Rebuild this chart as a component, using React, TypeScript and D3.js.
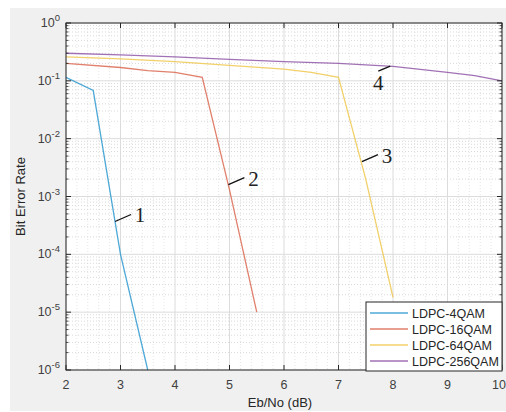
import React, { useEffect, useRef } from 'react';
import * as d3 from 'd3';

const seriesNames = ['LDPC-4QAM', 'LDPC-16QAM', 'LDPC-64QAM', 'LDPC-256QAM'];
const seriesColors = ['#2f9ad0', '#dc6a52', '#f0c850', '#9058a8'];

const ber4qam = [
  { x: 2, y: 0.115 }, { x: 2.5, y: 0.068 }, { x: 3, y: 1e-4 }, { x: 3.5, y: 1e-6 },
];
const ber16qam = [
  { x: 2, y: 0.2 }, { x: 3, y: 0.17 }, { x: 3.5, y: 0.15 }, { x: 4, y: 0.14 },
  { x: 4.5, y: 0.115 }, { x: 5, y: 1.3e-3 }, { x: 5.5, y: 1e-5 },
];
const ber64qam = [
  { x: 2, y: 0.26 }, { x: 3, y: 0.24 }, { x: 4, y: 0.215 }, { x: 5, y: 0.185 },
  { x: 6, y: 0.16 }, { x: 6.5, y: 0.14 }, { x: 7, y: 0.115 }, { x: 7.5, y: 2e-3 }, { x: 8, y: 1.8e-5 },
];
const ber256qam = [
  { x: 2, y: 0.3 }, { x: 3, y: 0.28 }, { x: 4, y: 0.26 }, { x: 5, y: 0.235 },
  { x: 6, y: 0.215 }, { x: 7, y: 0.2 }, { x: 8, y: 0.178 }, { x: 9, y: 0.14 },
  { x: 9.5, y: 0.123 }, { x: 10, y: 0.1 },
];
const allSeries = [ber4qam, ber16qam, ber64qam, ber256qam];

const xTicks = [2, 3, 4, 5, 6, 7, 8, 9, 10];
const yExponents = [0, -1, -2, -3, -4, -5, -6];

// curve labels: point on the curve + label text
const annotations = [
  { x: 2.9, y: 3.7e-4, label: '1' },
  { x: 4.98, y: 1.6e-3, label: '2' },
  { x: 7.43, y: 4e-3, label: '3' },
  { x: 7.95, y: 0.18, label: '4' },
];

export default function App() {
  const svgRef = useRef<SVGSVGElement>(null);

  useEffect(() => {
    const width = 506;
    const height = 412;
    const margin = { top: 23, right: 4, bottom: 42, left: 66 };
    const w = width - margin.left - margin.right;
    const h = height - margin.top - margin.bottom;

    const root = d3.select(svgRef.current);
    root.selectAll('*').remove();
    root.attr('width', width).attr('height', height);

    root.append('rect')
      .attr('x', 10).attr('y', 8)
      .attr('width', 496).attr('height', 403)
      .attr('fill', '#f0f0f0');

    const svg = root.append('g')
      .attr('transform', `translate(${margin.left},${margin.top})`);

    const x = d3.scaleLinear().domain([2, 10]).range([0, w]);
    const y = d3.scaleLog().domain([1e-6, 1]).range([h, 0]);

    svg.append('rect').attr('width', w).attr('height', h).attr('fill', '#ffffff');

    // minor grid
    const yMinor: number[] = [];
    for (let e = -6; e < 0; e++) {
      for (let m = 2; m <= 9; m++) yMinor.push(m * Math.pow(10, e));
    }
    const xMinor = d3.range(2, 10.001, 0.2).filter(v => Math.abs(v - Math.round(v)) > 0.01);

    svg.append('g').selectAll('line')
      .data(yMinor).enter().append('line')
      .attr('x1', 0).attr('x2', w)
      .attr('y1', d => y(d)).attr('y2', d => y(d))
      .attr('stroke', '#c8c8c8').attr('stroke-dasharray', '1,2').attr('stroke-width', 0.7);

    svg.append('g').selectAll('line')
      .data(xMinor).enter().append('line')
      .attr('y1', 0).attr('y2', h)
      .attr('x1', d => x(d)).attr('x2', d => x(d))
      .attr('stroke', '#d4d4d4').attr('stroke-dasharray', '1,2').attr('stroke-width', 0.6);

    // major grid
    svg.append('g').selectAll('line')
      .data(yExponents).enter().append('line')
      .attr('x1', 0).attr('x2', w)
      .attr('y1', d => y(Math.pow(10, d))).attr('y2', d => y(Math.pow(10, d)))
      .attr('stroke', '#dcdcdc').attr('stroke-width', 1);

    svg.append('g').selectAll('line')
      .data(xTicks).enter().append('line')
      .attr('y1', 0).attr('y2', h)
      .attr('x1', d => x(d)).attr('x2', d => x(d))
      .attr('stroke', '#dcdcdc').attr('stroke-width', 1);

    // series
    const line = d3.line<{ x: number; y: number }>()
      .x(d => x(d.x))
      .y(d => y(d.y));

    allSeries.forEach((s, i) => {
      svg.append('path')
        .datum(s)
        .attr('fill', 'none')
        .attr('stroke', seriesColors[i])
        .attr('stroke-width', 1.3)
        .attr('opacity', 0.85)
        .attr('d', line);
    });

    // box + ticks
    svg.append('rect').attr('width', w).attr('height', h)
      .attr('fill', 'none').attr('stroke', '#262626').attr('stroke-width', 1);

    const tickLen = 5;
    xTicks.forEach(t => {
      svg.append('line').attr('x1', x(t)).attr('x2', x(t)).attr('y1', h).attr('y2', h - tickLen)
        .attr('stroke', '#262626');
      svg.append('line').attr('x1', x(t)).attr('x2', x(t)).attr('y1', 0).attr('y2', tickLen)
        .attr('stroke', '#262626');
      svg.append('text')
        .attr('x', t === 10 ? x(t) - 3 : x(t)).attr('y', h + 19)
        .attr('text-anchor', 'middle')
        .attr('fill', '#404040')
        .style('font-family', 'Liberation Sans, Arial, sans-serif')
        .style('font-size', '12.5px')
        .text(t);
    });

    yExponents.forEach(e => {
      const yy = y(Math.pow(10, e));
      svg.append('line').attr('x1', 0).attr('x2', tickLen).attr('y1', yy).attr('y2', yy).attr('stroke', '#262626');
      svg.append('line').attr('x1', w).attr('x2', w - tickLen).attr('y1', yy).attr('y2', yy).attr('stroke', '#262626');
      const txt = svg.append('text')
        .attr('x', -6).attr('y', yy + 4)
        .attr('text-anchor', 'end')
        .attr('fill', '#404040')
        .style('font-family', 'Liberation Sans, Arial, sans-serif')
        .style('font-size', '12.5px');
      txt.append('tspan').text('10');
      txt.append('tspan').attr('dy', -6).style('font-size', '9.5px').text(String(e));
    });

    yMinor.forEach(v => {
      svg.append('line').attr('x1', 0).attr('x2', 2.5).attr('y1', y(v)).attr('y2', y(v)).attr('stroke', '#262626').attr('stroke-width', 0.8);
      svg.append('line').attr('x1', w).attr('x2', w - 2.5).attr('y1', y(v)).attr('y2', y(v)).attr('stroke', '#262626').attr('stroke-width', 0.8);
    });

    // axis titles
    svg.append('text')
      .attr('x', w / 2 - 4).attr('y', h + 37)
      .attr('text-anchor', 'middle')
      .attr('fill', '#262626')
      .style('font-family', 'Liberation Sans, Arial, sans-serif')
      .style('font-size', '13px')
      .text('Eb/No (dB)');

    svg.append('text')
      .attr('transform', `translate(${-41},${h / 2}) rotate(-90)`)
      .attr('text-anchor', 'middle')
      .attr('fill', '#262626')
      .style('font-family', 'Liberation Sans, Arial, sans-serif')
      .style('font-size', '13px')
      .text('Bit Error Rate');

    // annotations
    annotations.forEach(a => {
      const px = x(a.x);
      const py = y(a.y);
      const isFour = a.label === '4';
      const ex = isFour ? px - 12 : px + 16;
      const ey = isFour ? py + 5 : py - 7;
      svg.append('line')
        .attr('x1', px).attr('y1', py).attr('x2', ex).attr('y2', ey)
        .attr('stroke', '#111').attr('stroke-width', 1.3);
      svg.append('text')
        .attr('x', isFour ? px - 12 : ex + 9)
        .attr('y', isFour ? py + 24 : ey + 8)
        .attr('text-anchor', 'middle')
        .attr('fill', '#222')
        .style('font-family', 'Liberation Serif, Times New Roman, serif')
        .style('font-size', '21px')
        .text(a.label);
    });

    // legend
    const lw = 136, lh = 69;
    const lx = w - lw, ly = h - 68;
    const legend = svg.append('g').attr('transform', `translate(${lx},${ly})`);
    legend.append('rect').attr('width', lw).attr('height', lh)
      .attr('fill', '#ffffff').attr('stroke', '#262626').attr('stroke-width', 1);
    seriesNames.forEach((n, i) => {
      const yy = 11 + i * 16;
      legend.append('line').attr('x1', 4).attr('x2', 42).attr('y1', yy).attr('y2', yy)
        .attr('stroke', seriesColors[i]).attr('stroke-width', 1.3).attr('opacity', 0.85);
      legend.append('text').attr('x', 46).attr('y', yy + 4.5)
        .attr('fill', '#262626')
        .style('font-family', 'Liberation Sans, Arial, sans-serif')
        .style('font-size', '12.5px')
        .text(n);
    });
  }, []);

  return (
    <div style={{ position: 'absolute', left: 0, top: 0 }}>
      <svg ref={svgRef}></svg>
    </div>
  );
}
